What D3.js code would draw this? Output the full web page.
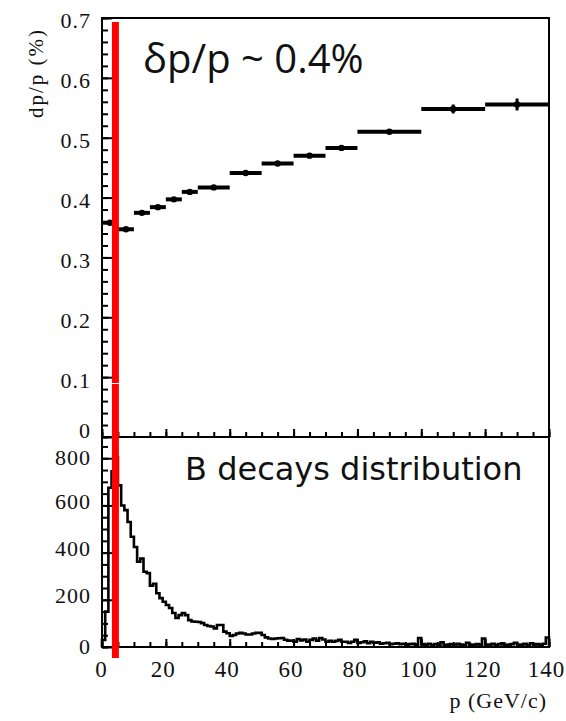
<!DOCTYPE html>
<html>
<head>
<meta charset="utf-8">
<script src="https://cdn.jsdelivr.net/npm/d3@7"></script>
<style>
  body { margin: 0; background: #fff; }
  text { fill: #111; }
</style>
</head>
<body>
<svg id="chart" width="566" height="721"></svg>
<script>
// momentum resolution, top panel (bins in GeV/c, dp/p in %)
var binLo = [0, 5, 10, 15, 20, 25, 30, 40, 50, 60, 70, 80, 100, 120];
var binHi = [5, 10, 15, 20, 25, 30, 40, 50, 60, 70, 80, 100, 120, 140];
var resol = [0.358, 0.347, 0.3745, 0.384, 0.397, 0.4095, 0.417, 0.441, 0.457, 0.470, 0.483, 0.510, 0.548, 0.5555];
var resolErr = [0.004, 0.003, 0.003, 0.003, 0.003, 0.003, 0.003, 0.003, 0.003, 0.003, 0.003, 0.003, 0.0075, 0.010];

// B decays momentum distribution, bottom panel (1 GeV/c bins, 0..140)
var bCounts = [
  30, 150, 675, 745, 805, 685, 600, 580, 530, 467,
  424, 361, 375, 319, 313, 260, 268, 228, 207, 192,
  178, 165, 144, 123, 135, 144, 135, 114, 108, 107,
  106, 101, 93, 89, 87, 79, 93, 93, 65, 58,
  47, 51, 57, 60, 57, 53, 53, 57, 60, 60,
  51, 41, 36, 34, 36, 37, 38, 31, 27, 27,
  22, 34, 28, 32, 22, 30, 36, 27, 38, 32,
  22, 26, 22, 26, 30, 22, 22, 17, 22, 30,
  17, 20, 24, 16, 22, 18, 20, 14, 16, 18,
  12, 14, 16, 12, 14, 10, 12, 14, 10, 38,
  12, 10, 14, 8, 12, 10, 20, 8, 10, 12,
  8, 14, 10, 8, 18, 10, 8, 12, 10, 36,
  8, 10, 14, 8, 12, 16, 8, 10, 12, 18,
  8, 10, 14, 8, 16, 10, 12, 8, 14, 40
];

var xTicks = [0, 20, 40, 60, 80, 100, 120, 140];
var resolTicks = [0, 0.1, 0.2, 0.3, 0.4, 0.5, 0.6, 0.7];
var countTicks = [0, 200, 400, 600, 800];
var markP = 4.2;   // red marker position, GeV/c

var svg = d3.select("#chart");
var left = 102, right = 549;
var topY0 = 18, topY1 = 437, botY1 = 647;

var x = d3.scaleLinear().domain([0, 140]).range([left, right]);
var yTop = d3.scaleLinear().domain([0, 0.7]).range([topY1, topY0]);
var yBot = d3.scaleLinear().domain([0, 890]).range([botY1, topY1]);

var serif = "'Liberation Serif', 'Times New Roman', serif";

function styleAxis(g, fs) {
  g.select(".domain").remove();
  g.selectAll(".tick line").attr("stroke", "#000").attr("stroke-width", 2);
  g.selectAll("text").attr("font-family", serif).attr("font-size", fs)
    .attr("letter-spacing", "1px").attr("fill", "#1a1a1a");
}

// top panel y axis
var gyt = svg.append("g").attr("transform", "translate(" + left + ",0)")
  .call(d3.axisLeft(yTop).tickValues(resolTicks).tickSizeInner(-10).tickSizeOuter(0)
    .tickPadding(11).tickFormat(function (d) { return d === 0 ? "0" : d3.format(".1f")(d); }));
styleAxis(gyt, 22);
gyt.selectAll("text").attr("dy", function (d) { return d === 0 ? "0.04em" : "0.45em"; });
var gytm = svg.append("g").attr("transform", "translate(" + left + ",0)")
  .call(d3.axisLeft(yTop).tickValues(d3.range(0, 0.7001, 0.02)).tickSizeInner(-6).tickSizeOuter(0).tickFormat(""));
styleAxis(gytm, 22);

// top panel x ticks (pointing up, no labels)
var gxt = svg.append("g").attr("transform", "translate(0," + topY1 + ")")
  .call(d3.axisBottom(x).tickValues(xTicks).tickSizeInner(-8).tickSizeOuter(0).tickFormat(""));
styleAxis(gxt, 22);
var gxtm = svg.append("g").attr("transform", "translate(0," + topY1 + ")")
  .call(d3.axisBottom(x).tickValues(d3.range(0, 141, 5)).tickSizeInner(-5).tickSizeOuter(0).tickFormat(""));
styleAxis(gxtm, 22);

// bottom panel y axis
var gyb = svg.append("g").attr("transform", "translate(" + left + ",0)")
  .call(d3.axisLeft(yBot).tickValues(countTicks).tickSizeInner(-10).tickSizeOuter(0).tickPadding(11));
styleAxis(gyb, 22);
gyb.selectAll("text").attr("dy", function (d) { return d === 0 ? "0.3em" : (d === 800 ? "0.28em" : "0.12em"); });
var gybm = svg.append("g").attr("transform", "translate(" + left + ",0)")
  .call(d3.axisLeft(yBot).tickValues(d3.range(0, 851, 50)).tickSizeInner(-6).tickSizeOuter(0).tickFormat(""));
styleAxis(gybm, 22);

// bottom panel x axis
var gxb = svg.append("g").attr("transform", "translate(0," + botY1 + ")")
  .call(d3.axisBottom(x).tickValues(xTicks).tickSizeInner(-8).tickSizeOuter(0).tickPadding(14));
styleAxis(gxb, 23);
gxb.selectAll("text").attr("dx", function (d) { return d === 0 ? -1 : -3; });
var gxbm = svg.append("g").attr("transform", "translate(0," + botY1 + ")")
  .call(d3.axisBottom(x).tickValues(d3.range(0, 141, 5)).tickSizeInner(-5).tickSizeOuter(0).tickFormat(""));
styleAxis(gxbm, 23);

// histogram outline
var steps = [[0, 0]];
bCounts.forEach(function (c, i) { steps.push([i, c]); steps.push([i + 1, c]); });
steps.push([140, 0]);
svg.append("path")
  .attr("d", d3.line().x(function (d) { return x(d[0]); }).y(function (d) { return yBot(d[1]); })(steps))
  .attr("fill", "none").attr("stroke", "#000").attr("stroke-width", 2.6)
  .attr("stroke-linejoin", "miter");

// resolution points
var pts = svg.append("g");
resol.forEach(function (v, i) {
  var mid = (binLo[i] + binHi[i]) / 2;
  pts.append("line")
    .attr("x1", x(binLo[i])).attr("x2", x(binHi[i]))
    .attr("y1", yTop(v)).attr("y2", yTop(v))
    .attr("stroke", "#000").attr("stroke-width", 4);
  pts.append("line")
    .attr("x1", x(mid)).attr("x2", x(mid))
    .attr("y1", yTop(v - resolErr[i])).attr("y2", yTop(v + resolErr[i]))
    .attr("stroke", "#000").attr("stroke-width", 3);
  pts.append("circle")
    .attr("cx", x(mid)).attr("cy", yTop(v))
    .attr("r", 3.2).attr("fill", "#000");
});

// frames
svg.append("rect").attr("x", left).attr("y", topY0).attr("width", right - left).attr("height", topY1 - topY0)
  .attr("fill", "none").attr("stroke", "#000").attr("stroke-width", 2);
svg.append("rect").attr("x", left).attr("y", topY1).attr("width", right - left).attr("height", botY1 - topY1)
  .attr("fill", "none").attr("stroke", "#000").attr("stroke-width", 2);

// red marker
svg.append("rect").attr("x", x(markP) - 3.5).attr("y", 22).attr("width", 7).attr("height", 636)
  .attr("fill", "#ff0000");
svg.append("rect").attr("x", x(markP) - 3.5).attr("y", 383).attr("width", 7).attr("height", 1)
  .attr("fill", "#fff");

// axis titles
svg.append("text")
  .attr("transform", "translate(43,73) rotate(-90)")
  .attr("text-anchor", "middle")
  .attr("font-family", serif).attr("font-size", 21).attr("letter-spacing", "2px")
  .attr("fill", "#333")
  .text("dp/p  (%)");
svg.append("text")
  .attr("x", 547).attr("y", 708).attr("text-anchor", "end")
  .attr("font-family", serif).attr("font-size", 22).attr("letter-spacing", "1px")
  .attr("fill", "#333")
  .text("p  (GeV/c)");

// annotations
svg.append("text")
  .attr("x", 143).attr("y", 73)
  .attr("font-family", "'Open Sans', sans-serif").attr("font-size", 40)
  .attr("fill", "#000")
  .text("δp/p ~ 0.4%");
svg.append("text")
  .attr("x", 185).attr("y", 480)
  .attr("font-family", "'DejaVu Sans', sans-serif").attr("font-size", 32)
  .attr("fill", "#000")
  .text("B decays distribution");
</script>
</body>
</html>
